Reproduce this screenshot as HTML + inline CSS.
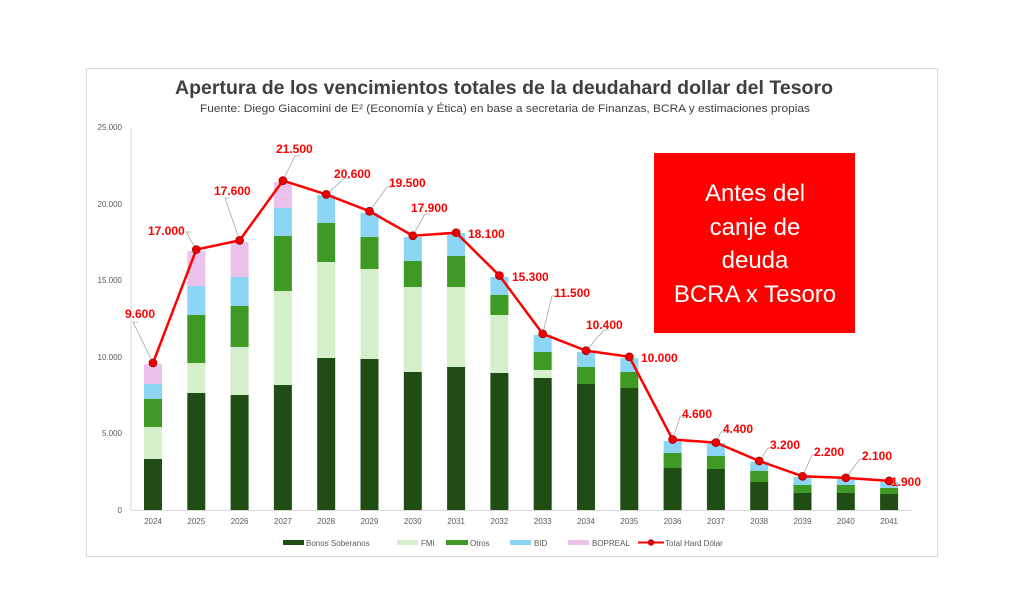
<!DOCTYPE html>
<html><head><meta charset="utf-8"><style>
html,body{margin:0;padding:0;background:#fff;}
svg{display:block;font-family:"Liberation Sans",sans-serif;}
</style></head><body>
<svg width="1024" height="611" viewBox="0 0 1024 611" xmlns="http://www.w3.org/2000/svg">
<rect x="0" y="0" width="1024" height="611" fill="#fff"/>
<rect x="86.5" y="68.5" width="851" height="488" fill="#fff" stroke="#d9d9d9"/>
<text x="504" y="94" text-anchor="middle" font-size="19" font-weight="bold" fill="#404040" textLength="658" lengthAdjust="spacingAndGlyphs">Apertura de los vencimientos totales de la deudahard dollar del Tesoro</text>
<text x="505" y="112" text-anchor="middle" font-size="11" fill="#404040" textLength="610" lengthAdjust="spacingAndGlyphs">Fuente: Diego Giacomini de E² (Economía y Ética) en base a secretaria de Finanzas, BCRA y estimaciones propias</text>
<g font-size="8" fill="#595959" text-anchor="end">
<text x="122" y="130">25.000</text><text x="122" y="207">20.000</text><text x="122" y="283">15.000</text><text x="122" y="360">10.000</text><text x="122" y="436">5.000</text><text x="122" y="513">0</text>
</g>
<line x1="131" y1="127" x2="131" y2="510" stroke="#d9d9d9"/>
<line x1="131" y1="510.5" x2="912" y2="510.5" stroke="#d9d9d9"/>
<g id="bars"></g>
<g font-size="8" fill="#595959" text-anchor="middle" id="xl"></g>
<rect x="654" y="153" width="201" height="180" fill="#ff0000"/>
<g fill="#fff" font-size="24" text-anchor="middle">
<text x="755" y="201">Antes del</text><text x="755" y="235">canje de</text><text x="755" y="268">deuda</text><text x="755" y="302">BCRA x Tesoro</text>
</g>
<g id="lead" stroke="#a6a6a6" stroke-width="0.8" fill="none"></g>
<g id="line"></g>
<g id="lbl" font-size="12" font-weight="bold" fill="#ff0000"></g>
<g font-size="8" fill="#595959">
<rect x="283" y="540" width="21" height="5" fill="#1f4d14"/><text x="306" y="546">Bonos Soberanos</text>
<rect x="397" y="540" width="21" height="5" fill="#d4efca"/><text x="421" y="546">FMI</text>
<rect x="446" y="540" width="22" height="5" fill="#3f9a25"/><text x="470" y="546">Otros</text>
<rect x="510" y="540" width="21" height="5" fill="#8dd5f5"/><text x="534" y="546">BID</text>
<rect x="568" y="540" width="21" height="5" fill="#ebc2ea"/><text x="592" y="546">BOPREAL</text>
<line x1="638" y1="542.5" x2="664" y2="542.5" stroke="#ff0000" stroke-width="2"/><circle cx="651" cy="542.5" r="3" fill="#e00" stroke="#900" stroke-width="0.5"/><text x="665" y="546">Total Hard Dólar</text>
</g>
<script>
(function(){
var ns="http://www.w3.org/2000/svg";
var cols=["#1f4d14","#d4efca","#3f9a25","#8dd5f5","#ebc2ea"];
var d=[[459,427,399,384,364],[393,363,315,286,251],[395,347,306,277,242],[385,291,236,208,182],[358,262,223,195,195],[359,269,237,213,213],[372,287,261,237,237],[367,287,256,233,233],[373,315,295,277,277],[378,370,352,335,335],[384,384,367,352,352],[388,388,372,358,358],[468,468,453,441,441],[469,469,456,443,443],[482,482,471,462,462],[493,493,485,477,477],[493,493,485,479,479],[494,494,488,482,482]];
var vals=[9600,17000,17600,21500,20600,19500,17900,18100,15300,11500,10400,10000,4600,4400,3200,2200,2100,1900];
var labs=[["9.600",125,318,133,322],["17.000",148,235,186,232],["17.600",214,195,225,198],["21.500",276,153,295,156],["20.600",334,178,345,178],["19.500",389,187,387,187],["17.900",411,212,425,214],["18.100",468,238,0,0],["15.300",512,281,0,0],["11.500",554,297,552,296],["10.400",586,329,604,330],["10.000",641,362,0,0],["4.600",682,418,680,417],["4.400",723,433,721,432],["3.200",770,449,768,448],["2.200",814,456,812,455],["2.100",862,460,860,459],["1.900",891,486,0,0]];
var bars=document.getElementById("bars"),xl=document.getElementById("xl"),lead=document.getElementById("lead"),lbl=document.getElementById("lbl"),ln=document.getElementById("line");
var pts=[];
function el(t,a,p){var e=document.createElementNS(ns,t);for(var k in a)e.setAttribute(k,a[k]);p.appendChild(e);return e;}
for(var i=0;i<18;i++){
 var cx=153+i*43.3;var prev=510;
 for(var j=0;j<5;j++){var tp=d[i][j];if(prev-tp>0)el("rect",{x:cx-9,y:tp,width:18,height:prev-tp,fill:cols[j]},bars);prev=tp;}
 var t=el("text",{x:cx,y:524},xl);t.textContent=2024+i;
 var y=510-vals[i]*15.32/1000;pts.push(cx+","+y);
 var L=labs[i];
 if(L[3]){el("polyline",{points:cx+","+y+" "+L[3]+","+L[4]+" "+(L[3]+5)+","+L[4]},lead);}
 var tt=el("text",{x:L[1],y:L[2]},lbl);tt.textContent=L[0];
}
el("polyline",{points:pts.join(" "),fill:"none",stroke:"#ff0000","stroke-width":2.5},ln);
pts.forEach(function(p){var q=p.split(",");el("circle",{cx:q[0],cy:q[1],r:4,fill:"#e00",stroke:"#900","stroke-width":0.7},ln);});
})();
</script>
</svg>
</body></html>
